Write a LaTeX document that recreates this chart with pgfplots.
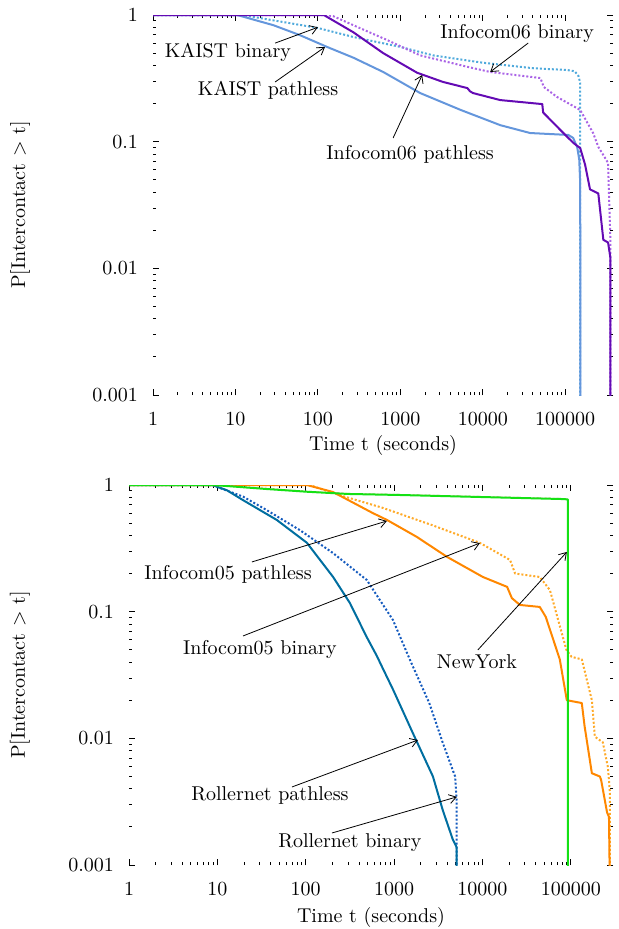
\documentclass[border=0pt]{standalone}
\usepackage{pgfplots}
\pgfplotsset{compat=1.18}
\usetikzlibrary{arrows.meta}

\definecolor{kaistp}{RGB}{100,150,220}
\definecolor{kaistb}{RGB}{80,170,220}
\definecolor{infsixp}{RGB}{100,10,180}
\definecolor{infsixb}{RGB}{170,100,230}
\definecolor{inffivep}{RGB}{255,135,0}
\definecolor{inffiveb}{RGB}{255,170,40}
\definecolor{nyc}{RGB}{20,225,20}
\definecolor{rollp}{RGB}{0,110,160}
\definecolor{rollb}{RGB}{20,90,190}

\tikzset{ann/.style={-{Straight Barb[length=3.5pt,width=4.5pt]}, line width=0.4pt, black}}

\begin{document}
\begin{tikzpicture}
\path[use as bounding box] (0,0) rectangle (309pt,-464.5pt);

% ---- top panel: KAIST / Infocom06
\begin{axis}[
    at={(76.5pt,-197.5pt)}, anchor=south west,
    scale only axis, width=230pt, height=190pt,
    xmode=log, ymode=log,
    xmin=1, xmax=3.8e5, ymin=1e-3, ymax=1,
    axis line style={draw=none},
    tick align=inside, tick pos=both,
    major tick length=3pt, minor tick length=1.6pt,
    tick style={black, line width=0.4pt},
    xtick={1,10,100,1000,10000,100000},
    xticklabels={1,10,100,1000,10000,100000},
    ytick={0.001,0.01,0.1,1},
    yticklabels={0.001,0.01,0.1,1},
    xticklabel style={yshift=-5pt},
    yticklabel style={xshift=-4pt},
    xlabel={Time t (seconds)},
    ylabel={P[Intercontact $>$ t]},
    xlabel style={at={(axis description cs:0.5,-0.1316)}, anchor=center},
    ylabel style={at={(axis description cs:-0.289,0.5)}, anchor=center},
    every axis plot/.append style={line width=1pt, line join=round},
]
% KAIST binary
\addplot[kaistb, densely dotted] coordinates {
 (1,1) (12,1) (38,0.88) (100,0.79) (270,0.67) (1000,0.56) (2500,0.48)
 (10000,0.42) (41000,0.38) (105000,0.368) (130000,0.36) (145000,0.33)
 (152000,0.29) (152000,0.0009)};
% KAIST pathless
\addplot[kaistp] coordinates {
 (1,1) (10.5,1) (29,0.83) (60,0.695) (129,0.56) (270,0.46) (620,0.355)
 (1740,0.242) (5400,0.178) (16300,0.135) (37600,0.117) (109000,0.113)
 (125000,0.107) (140000,0.09) (148000,0.072) (152000,0.047) (153000,0.0009)};
% Infocom06 binary
\addplot[infsixb, densely dotted] coordinates {
 (1,1) (118,1) (153,0.98) (270,0.83) (690,0.635) (1740,0.48) (6500,0.39)
 (12300,0.355) (50000,0.318) (55000,0.27) (80000,0.225) (152000,0.178)
 (218000,0.117) (252000,0.091) (331000,0.068) (352000,0.0177) (352000,0.0009)};
% Infocom06 pathless
\addplot[infsixp] coordinates {
 (1,1) (118,1) (270,0.73) (620,0.5) (1600,0.35) (3300,0.296) (6500,0.265)
 (7000,0.25) (7600,0.242) (16300,0.213) (52700,0.198) (54000,0.17)
 (87000,0.124) (125000,0.098) (152000,0.089) (174000,0.066) (200000,0.042)
 (252000,0.039) (290000,0.0168) (331000,0.016) (352000,0.0123) (352000,0.0009)};

\node at (axis cs:8.1,0.51) {KAIST binary};
\draw[ann] (axis cs:30.3,0.60) -- (axis cs:100,0.80);
\node at (axis cs:24.9,0.256) {KAIST pathless};
\draw[ann] (axis cs:30.3,0.296) -- (axis cs:122,0.559);
\node at (axis cs:1315,0.080) {Infocom06 pathless};
\draw[ann] (axis cs:818,0.107) -- (axis cs:1840,0.336);
\node at (axis cs:26100,0.721) {Infocom06 binary};
\draw[ann] (axis cs:35600,0.601) -- (axis cs:12300,0.355);
\end{axis}

% ---- bottom panel: Infocom05 / NewYork / Rollernet
\begin{axis}[
    at={(64.5pt,-432.5pt)}, anchor=south west,
    scale only axis, width=242pt, height=190pt,
    xmode=log, ymode=log,
    xmin=1, xmax=3e5, ymin=1e-3, ymax=1,
    axis line style={draw=none},
    tick align=inside, tick pos=both,
    major tick length=3pt, minor tick length=1.6pt,
    tick style={black, line width=0.4pt},
    xtick={1,10,100,1000,10000,100000},
    xticklabels={1,10,100,1000,10000,100000},
    ytick={0.001,0.01,0.1,1},
    yticklabels={0.001,0.01,0.1,1},
    xticklabel style={yshift=-5pt},
    yticklabel style={xshift=-4pt},
    xlabel={Time t (seconds)},
    ylabel={P[Intercontact $>$ t]},
    xlabel style={at={(axis description cs:0.5,-0.137)}, anchor=center},
    ylabel style={at={(axis description cs:-0.2252,0.5)}, anchor=center},
    every axis plot/.append style={line width=1pt, line join=round},
]
% Rollernet binary
\addplot[rollb, densely dotted] coordinates {
 (1,1) (8.7,1) (19.5,0.81) (36,0.635) (86,0.44) (204,0.29) (490,0.178)
 (970,0.086) (1550,0.04) (2500,0.019) (3560,0.0092) (4900,0.005)
 (5100,0.0032) (5100,0.0009)};
% Rollernet pathless
\addplot[rollp] coordinates {
 (1,1) (8.7,1) (12.8,0.91) (19.5,0.76) (47,0.53) (103,0.35) (204,0.188)
 (316,0.117) (490,0.063) (635,0.045) (740,0.036) (980,0.024) (1630,0.011)
 (2750,0.005) (3560,0.0027) (4600,0.0016) (5100,0.00138) (5100,0.0009)};
% Infocom05 binary
\addplot[inffiveb, densely dotted] coordinates {
 (1,1) (110,1) (245,0.83) (745,0.66) (2740,0.48) (9300,0.35) (20500,0.256)
 (23400,0.2) (44500,0.188) (58000,0.148) (89000,0.05) (102000,0.044)
 (133000,0.042) (173000,0.02) (187000,0.0103) (230000,0.0093)
 (263000,0.0059) (277000,0.0037) (277000,0.0009)};
% Infocom05 pathless
\addplot[inffivep] coordinates {
 (1,1) (103,1) (204,0.88) (575,0.6) (830,0.53) (1800,0.39) (4000,0.27)
 (10100,0.188) (19000,0.157) (21500,0.128) (26500,0.113) (44500,0.109)
 (52000,0.091) (75000,0.042) (90000,0.02) (133000,0.019) (143000,0.0125)
 (173000,0.0053) (213000,0.005) (220000,0.0047) (257000,0.0026)
 (270000,0.0024) (275000,0.0009)};
% NewYork binary
\addplot[red!45, densely dotted, line width=0.6pt] coordinates {
 (1,1) (9,1) (36,0.94) (103,0.89) (300,0.855) (1170,0.84) (81000,0.78)
 (92500,0.775) (92500,0.0009)};
% NewYork pathless
\addplot[nyc] coordinates {
 (1,1) (9,1) (36,0.93) (103,0.885) (300,0.85) (1170,0.834) (81000,0.775)
 (92500,0.77) (92500,0.0009)};

\node at (axis cs:13.2,0.198) {Infocom05 pathless};
\draw[ann] (axis cs:24.6,0.247) -- (axis cs:829,0.52);
\node at (axis cs:30.3,0.0499) {Infocom05 binary};
\draw[ann] (axis cs:19.5,0.0643) -- (axis cs:9350,0.348);
\node at (axis cs:8650,0.0401) {NewYork};
\draw[ann] (axis cs:8870,0.0499) -- (axis cs:90100,0.296);
\node at (axis cs:39.4,0.00357) {Rollernet pathless};
\draw[ann] (axis cs:69.8,0.00413) -- (axis cs:1860,0.0097);
\node at (axis cs:316,0.00149) {Rollernet binary};
\draw[ann] (axis cs:198,0.00179) -- (axis cs:5130,0.00345);
\end{axis}
\end{tikzpicture}
\end{document}
